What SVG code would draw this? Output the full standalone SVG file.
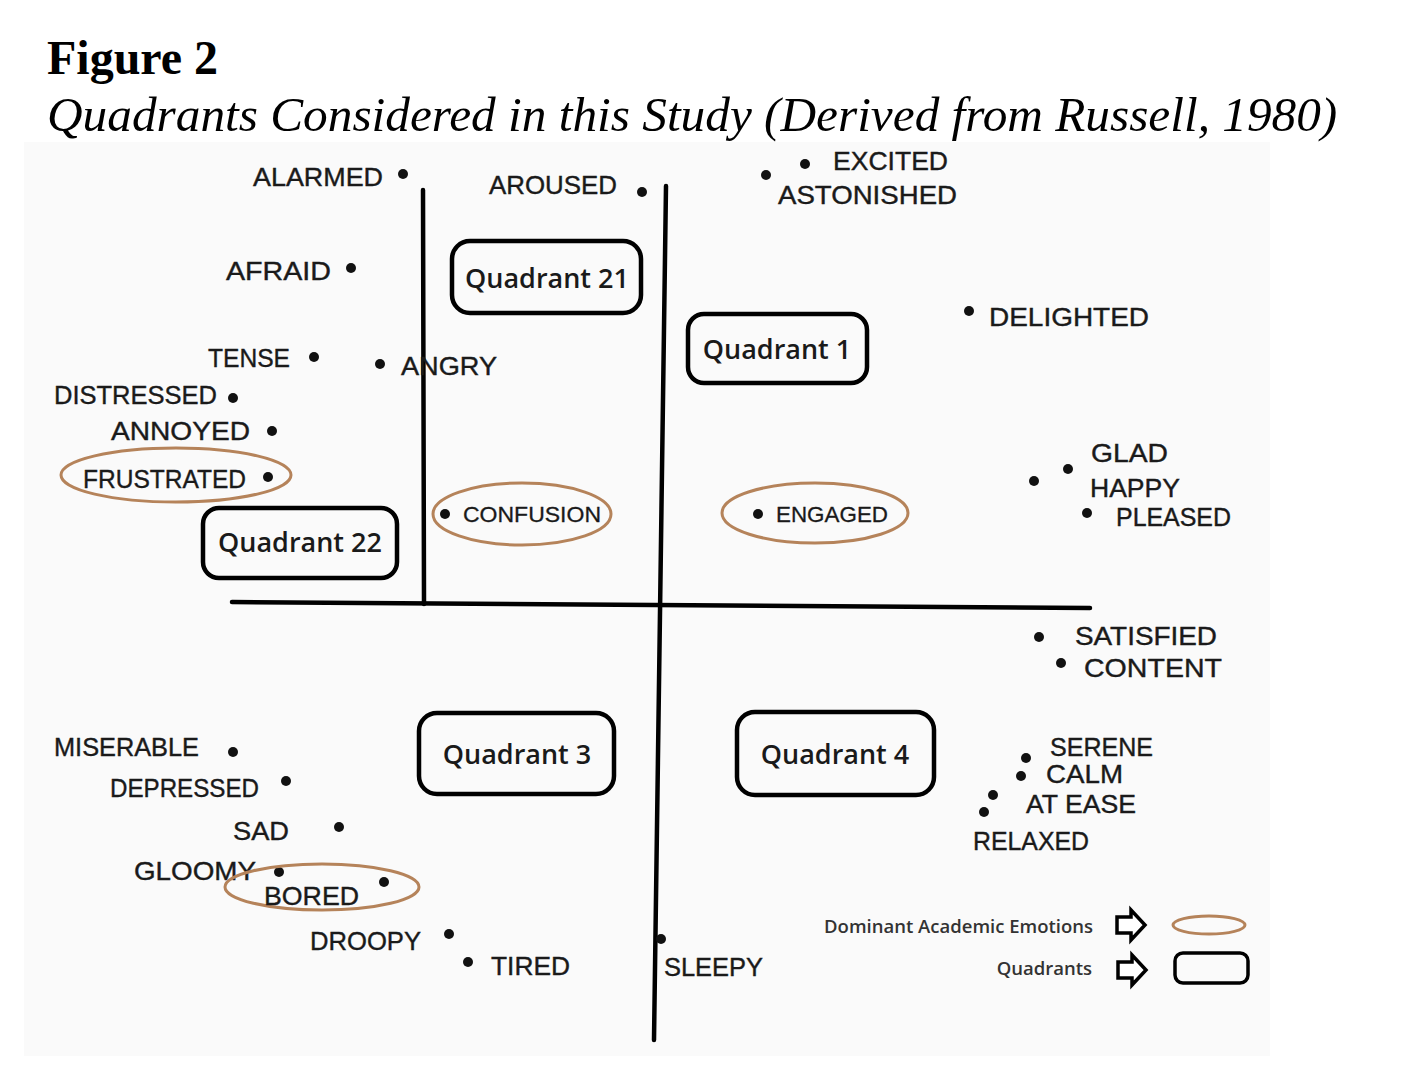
<svg xmlns="http://www.w3.org/2000/svg" width="1408" height="1071" viewBox="0 0 1408 1071">
<defs>
<style>
.title{font-family:"Liberation Serif","Times New Roman",serif;fill:#000}
.lbl{font-family:"Liberation Sans",Arial,sans-serif;font-size:26px;fill:#1a1a1a;stroke:#1a1a1a;stroke-width:0.4}
.lbl2{font-family:"Liberation Sans",Arial,sans-serif;font-size:22px;fill:#1a1a1a;stroke:#1a1a1a;stroke-width:0.3}
.qt{font-family:"Open Sans","Liberation Sans",sans-serif;font-size:27px;font-weight:600;fill:#1a1a1a;text-anchor:middle}
.leg{font-family:"Open Sans","Liberation Sans",sans-serif;font-size:18.5px;font-weight:600;fill:#333;text-anchor:end}
.box{fill:none;stroke:#000;stroke-width:4.5}
.ell{fill:none;stroke:#b5835a;stroke-width:3}
.axis{stroke:#000;stroke-width:4.5;stroke-linecap:round}
.dot{fill:#111}
.arr{fill:#fff;stroke:#000;stroke-width:3.5;stroke-linejoin:miter}
</style>
</defs>
<rect width="1408" height="1071" fill="#fff"/>
<rect x="24" y="142" width="1246" height="914" fill="#fafafa"/>
<text class="title" x="47" y="74" font-size="48" font-weight="bold">Figure 2</text>
<text class="title" x="47" y="131" font-size="49.3" font-style="italic">Quadrants Considered in this Study (Derived from Russell, 1980)</text>

<g id="connectors">
<line class="axis" x1="423" y1="190" x2="424" y2="604"/>
<line class="axis" x1="666" y1="186" x2="654" y2="1040"/>
<line class="axis" x1="232" y1="602" x2="1090" y2="608"/>
</g>

<g id="quadrant-21"><rect class="box" x="452" y="241" width="189" height="72" rx="18"/><text class="qt" x="547" y="288">Quadrant 21</text></g>
<g id="quadrant-1"><rect class="box" x="688" y="314" width="179" height="69" rx="16"/><text class="qt" x="777" y="359">Quadrant 1</text></g>
<g id="quadrant-22"><rect class="box" x="203" y="508" width="194" height="70" rx="16"/><text class="qt" x="300" y="552">Quadrant 22</text></g>
<g id="quadrant-3"><rect class="box" x="419" y="713" width="195" height="81" rx="18"/><text class="qt" x="517" y="764">Quadrant 3</text></g>
<g id="quadrant-4"><rect class="box" x="737" y="712" width="197" height="83" rx="18"/><text class="qt" x="835" y="764">Quadrant 4</text></g>

<g id="alarmed"><text class="lbl" x="253" y="186" textLength="130" lengthAdjust="spacingAndGlyphs">ALARMED</text><circle class="dot" cx="403" cy="174" r="5"/></g>
<g id="aroused"><text class="lbl" x="489" y="194" textLength="128" lengthAdjust="spacingAndGlyphs">AROUSED</text><circle class="dot" cx="642" cy="192" r="5"/></g>
<g id="excited"><circle class="dot" cx="805" cy="164" r="5"/><text class="lbl" x="833" y="170" textLength="115" lengthAdjust="spacingAndGlyphs">EXCITED</text></g>
<g id="astonished"><circle class="dot" cx="766" cy="175" r="5"/><text class="lbl" x="778" y="204" textLength="179" lengthAdjust="spacingAndGlyphs">ASTONISHED</text></g>
<g id="afraid"><text class="lbl" x="226" y="280" textLength="105" lengthAdjust="spacingAndGlyphs">AFRAID</text><circle class="dot" cx="351" cy="268" r="5"/></g>
<g id="delighted"><circle class="dot" cx="969" cy="311" r="5"/><text class="lbl" x="989" y="326" textLength="160" lengthAdjust="spacingAndGlyphs">DELIGHTED</text></g>
<g id="tense"><text class="lbl" x="208" y="367" textLength="82" lengthAdjust="spacingAndGlyphs">TENSE</text><circle class="dot" cx="314" cy="357" r="5"/></g>
<g id="angry"><circle class="dot" cx="380" cy="364" r="5"/><text class="lbl" x="401" y="375" textLength="96" lengthAdjust="spacingAndGlyphs">ANGRY</text></g>
<g id="distressed"><text class="lbl" x="54" y="404" textLength="163" lengthAdjust="spacingAndGlyphs">DISTRESSED</text><circle class="dot" cx="233" cy="398" r="5"/></g>
<g id="annoyed"><text class="lbl" x="111" y="440" textLength="139" lengthAdjust="spacingAndGlyphs">ANNOYED</text><circle class="dot" cx="272" cy="431" r="5"/></g>
<g id="frustrated"><ellipse class="ell" cx="176" cy="475" rx="115" ry="27"/><text class="lbl" x="83" y="488" textLength="163" lengthAdjust="spacingAndGlyphs">FRUSTRATED</text><circle class="dot" cx="268" cy="477" r="5"/></g>
<g id="confusion"><ellipse class="ell" cx="522" cy="514" rx="89" ry="31"/><circle class="dot" cx="445" cy="514" r="5"/><text class="lbl2" x="463" y="522" textLength="138" lengthAdjust="spacingAndGlyphs">CONFUSION</text></g>
<g id="engaged"><ellipse class="ell" cx="815" cy="513" rx="93" ry="30"/><circle class="dot" cx="758" cy="514" r="5"/><text class="lbl2" x="776" y="522" textLength="112" lengthAdjust="spacingAndGlyphs">ENGAGED</text></g>
<g id="glad"><circle class="dot" cx="1068" cy="469" r="5"/><text class="lbl" x="1091" y="462" textLength="77" lengthAdjust="spacingAndGlyphs">GLAD</text></g>
<g id="happy"><circle class="dot" cx="1034" cy="481" r="5"/><text class="lbl" x="1090" y="497" textLength="90" lengthAdjust="spacingAndGlyphs">HAPPY</text></g>
<g id="pleased"><circle class="dot" cx="1087" cy="513" r="5"/><text class="lbl" x="1116" y="526" textLength="115" lengthAdjust="spacingAndGlyphs">PLEASED</text></g>
<g id="satisfied"><circle class="dot" cx="1039" cy="637" r="5"/><text class="lbl" x="1075" y="645" textLength="142" lengthAdjust="spacingAndGlyphs">SATISFIED</text></g>
<g id="content"><circle class="dot" cx="1061" cy="663" r="5"/><text class="lbl" x="1084" y="677" textLength="138" lengthAdjust="spacingAndGlyphs">CONTENT</text></g>
<g id="serene"><circle class="dot" cx="1026" cy="758" r="5"/><text class="lbl" x="1050" y="756" font-size="25" textLength="103" lengthAdjust="spacingAndGlyphs">SERENE</text></g>
<g id="calm"><circle class="dot" cx="1021" cy="776" r="5"/><text class="lbl" x="1046" y="783" font-size="25" textLength="77" lengthAdjust="spacingAndGlyphs">CALM</text></g>
<g id="at-ease"><circle class="dot" cx="993" cy="795" r="5"/><text class="lbl" x="1026" y="813" textLength="110" lengthAdjust="spacingAndGlyphs">AT EASE</text></g>
<g id="relaxed"><circle class="dot" cx="984" cy="812" r="5"/><text class="lbl" x="973" y="850" textLength="116" lengthAdjust="spacingAndGlyphs">RELAXED</text></g>
<g id="miserable"><text class="lbl" x="54" y="756" textLength="145" lengthAdjust="spacingAndGlyphs">MISERABLE</text><circle class="dot" cx="233" cy="752" r="5"/></g>
<g id="depressed"><text class="lbl" x="110" y="797" textLength="149" lengthAdjust="spacingAndGlyphs">DEPRESSED</text><circle class="dot" cx="286" cy="781" r="5"/></g>
<g id="sad"><text class="lbl" x="233" y="840" textLength="56" lengthAdjust="spacingAndGlyphs">SAD</text><circle class="dot" cx="339" cy="827" r="5"/></g>
<g id="gloomy"><text class="lbl" x="134" y="880" textLength="122" lengthAdjust="spacingAndGlyphs">GLOOMY</text><circle class="dot" cx="279" cy="872" r="5"/></g>
<g id="bored"><ellipse class="ell" cx="322" cy="887" rx="97" ry="23"/><text class="lbl" x="264" y="905" textLength="95" lengthAdjust="spacingAndGlyphs">BORED</text><circle class="dot" cx="384" cy="882" r="5"/></g>
<g id="droopy"><text class="lbl" x="310" y="950" textLength="111" lengthAdjust="spacingAndGlyphs">DROOPY</text><circle class="dot" cx="449" cy="934" r="5"/></g>
<g id="tired"><circle class="dot" cx="468" cy="962" r="5"/><text class="lbl" x="491" y="975" textLength="79" lengthAdjust="spacingAndGlyphs">TIRED</text></g>
<g id="sleepy"><circle class="dot" cx="661" cy="939" r="5"/><text class="lbl" x="664" y="976" textLength="99" lengthAdjust="spacingAndGlyphs">SLEEPY</text></g>

<g id="legend">
<text class="leg" x="1093" y="933">Dominant Academic Emotions</text>
<path class="arr" d="M1117,917 L1131,917 L1131,910 L1145,925 L1131,940 L1131,933 L1117,933 Z"/>
<ellipse class="ell" cx="1209" cy="925" rx="36" ry="9"/>
<text class="leg" x="1092" y="975">Quadrants</text>
<path class="arr" d="M1118,962 L1132,962 L1132,955 L1146,970 L1132,985 L1132,978 L1118,978 Z"/>
<rect x="1175" y="953" width="73" height="30" rx="8" fill="none" stroke="#000" stroke-width="3.5"/>
</g>
</svg>
